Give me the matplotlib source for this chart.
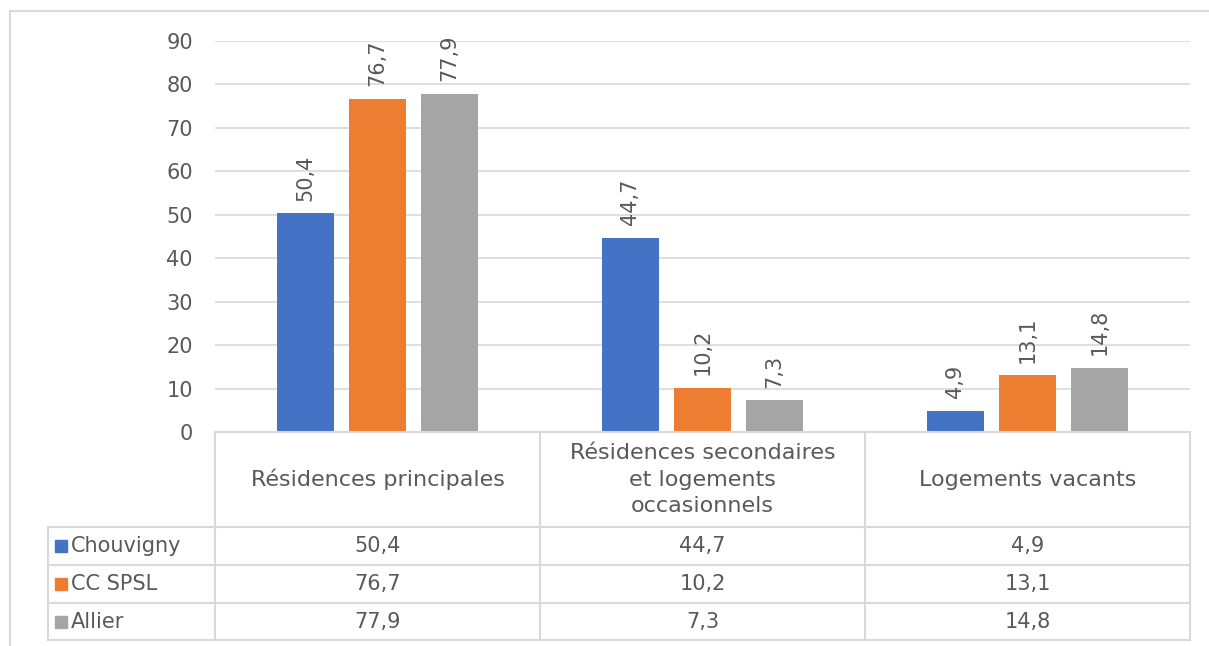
import numpy as np
import matplotlib.pyplot as plt
from matplotlib.lines import Line2D
from matplotlib.patches import Rectangle

plt.rcParams['font.family'] = ['DejaVu Sans']

categories = ['Résidences principales',
              'Résidences secondaires\net logements\noccasionnels',
              'Logements vacants']
series = ['Chouvigny', 'CC SPSL', 'Allier']
chouvigny = [50.4, 44.7, 4.9]
cc_spsl = [76.7, 10.2, 13.1]
allier = [77.9, 7.3, 14.8]
colors = ['#4472c4', '#ed7d31', '#a5a5a5']

values = [chouvigny, cc_spsl, allier]
W, H = 1209, 646
TXT = '#595959'
GRID = '#d9d9d9'

def fx(px):
    return px / W

def fy(py):
    return 1 - py / H

def hline(y, x0, x1, lw=1.5):
    fig.add_artist(Line2D([fx(x0), fx(x1)], [fy(y), fy(y)],
                          transform=fig.transFigure, color=GRID, lw=lw))

def vline(xp, y0, y1, lw=1.5):
    fig.add_artist(Line2D([fx(xp), fx(xp)], [fy(y0), fy(y1)],
                          transform=fig.transFigure, color=GRID, lw=lw))

def fmt(v):
    return ('%.1f' % v).replace('.', ',')

fig = plt.figure(figsize=(W / 100, H / 100), dpi=100)

# outer frame (only top and left edges visible)
hline(11, 9.5, W)
vline(9.5, 11, H)

ax = fig.add_axes([fx(215), fy(432), fx(1190) - fx(215), fy(41) - fy(432)])
x = np.arange(len(categories))
width = 0.175
offs = [-0.222, 0, 0.222]
for vals, off, c in zip(values, offs, colors):
    bars = ax.bar(x + off, vals, width, color=c, zorder=3)
    for b, v in zip(bars, vals):
        ax.annotate(fmt(v), (b.get_x() + b.get_width() / 2, v),
                    xytext=(0, 9), textcoords='offset points',
                    rotation=90, ha='center', va='bottom',
                    fontsize=15, color=TXT)

ax.set_xlim(-0.5, 2.5)
ax.set_ylim(0, 90)
ax.set_yticks(range(0, 91, 10))
ax.yaxis.grid(True, color=GRID, lw=1.2, zorder=0)
ax.set_xticks([])
ax.tick_params(axis='y', length=0, pad=16, labelsize=15, labelcolor=TXT)
for s in ax.spines.values():
    s.set_visible(False)

# data table
col_x = [215, 540, 865, 1190]
row_y = [432, 527, 565, 603, 640]
left = 48

hline(row_y[0], col_x[0], col_x[-1])
for y in row_y[1:]:
    hline(y, left, col_x[-1])
for xp in col_x:
    vline(xp, row_y[0], row_y[-1])
vline(left, row_y[1], row_y[-1])

for i, cat in enumerate(categories):
    cx = (col_x[i] + col_x[i + 1]) / 2
    fig.text(fx(cx), fy((row_y[0] + row_y[1]) / 2), cat, ha='center',
             va='center', fontsize=16, color=TXT, linespacing=1.43)

for r, (name, vals, c) in enumerate(zip(series, values, colors)):
    cy = (row_y[r + 1] + row_y[r + 2]) / 2
    fig.add_artist(Rectangle((fx(55), fy(cy + 6)), fx(12), fy(cy - 6) - fy(cy + 6),
                             transform=fig.transFigure, color=c))
    fig.text(fx(71), fy(cy), name, ha='left', va='center', fontsize=15, color=TXT)
    for i, v in enumerate(vals):
        cx = (col_x[i] + col_x[i + 1]) / 2
        fig.text(fx(cx), fy(cy), fmt(v), ha='center',
                 va='center', fontsize=15, color=TXT)

fig.savefig('out.png', dpi=100)
